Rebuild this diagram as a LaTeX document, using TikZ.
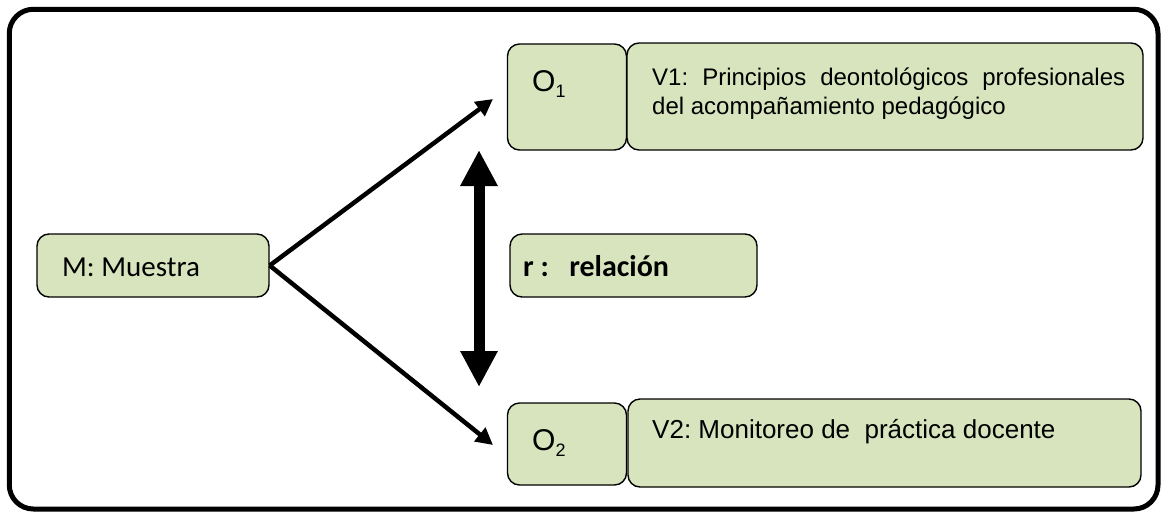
\documentclass[tikz,border=0pt]{standalone}
\usepackage{fontspec}
\setmainfont{Liberation Sans}
\newfontfamily\calibri{Carlito}
\usepackage{tikz}
\usetikzlibrary{arrows.meta}
\definecolor{boxgreen}{RGB}{215,228,189}
\newcommand{\osub}[1]{O\raisebox{-6pt}{\fontsize{18}{18}\selectfont #1}}
\frenchspacing

\begin{document}
\begin{tikzpicture}[x=1pt, y=-1pt,
        box/.style={draw=black, fill=boxgreen, line width=1.4pt, rounded corners=12pt, inner sep=0pt},
        every edge/.append style={draw=black}]
        \useasboundingbox (0,0) rectangle (1161,512);
        \draw [line width=5pt, rounded corners=24pt] (9.3,9.3) rectangle (1158,509);
        % boxes
        \node [box, minimum width=232pt, minimum height=63pt] (m) at (153,265.5) {};
        \node [box, minimum width=247pt, minimum height=63pt] (r) at (633.5,265.5) {};
        \node [box, minimum width=119pt, minimum height=106pt] (o1) at (567,97) {};
        \node [box, minimum width=516pt, minimum height=107pt] (v1) at (885,96.5) {};
        \node [box, minimum width=119pt, minimum height=82pt] (o2) at (567,444) {};
        \node [box, minimum width=513pt, minimum height=88pt] (v2) at (884.5,443) {};
        % texts
        \node [anchor=base west, inner sep=0pt, font=\calibri\fontsize{29}{34}\selectfont] (mtxt) at (62,276) {M: Muestra};
        \node [anchor=base west, inner sep=0pt, font=\calibri\bfseries\fontsize{30}{36}\selectfont] (rtxt) at (523,276) {r :~~~relación};
        \node [anchor=base west, inner sep=0pt, font=\fontsize{30}{36}\selectfont] (o1txt) at (532,91) {\osub{1}};
        \node [anchor=base west, inner sep=0pt, font=\fontsize{30}{36}\selectfont] (o2txt) at (532,450) {\osub{2}};
        \node [anchor=base west, inner sep=0pt, text width=473pt, align=justify, font=\fontsize{24}{29}\selectfont] (v1txt) at (652,85)
        {V1: Principios deontológicos profesionales\linebreak del acompañamiento pedagógico};
        \node [anchor=base west, inner sep=0pt, font=\fontsize{26}{29}\selectfont] (v2txt) at (652,438) {V2: Monitoreo de~ práctica docente};
        % arrows
        \coordinate (t1) at (493,99);
        \coordinate (t2) at (493,445);
        \coordinate (d1) at (479,150);
        \coordinate (d2) at (479,387);
        \path [every edge/.append style={line width=4.5pt, -{Triangle[length=17pt, width=17pt]}}]
        (m.east) edge (t1)
        (m.east) edge (t2);
        \draw [line width=11pt, {Triangle[length=36pt, width=35pt]}-{Triangle[length=36pt, width=35pt]}] (d1) -- (d2);
    \end{tikzpicture}
\end{document}
